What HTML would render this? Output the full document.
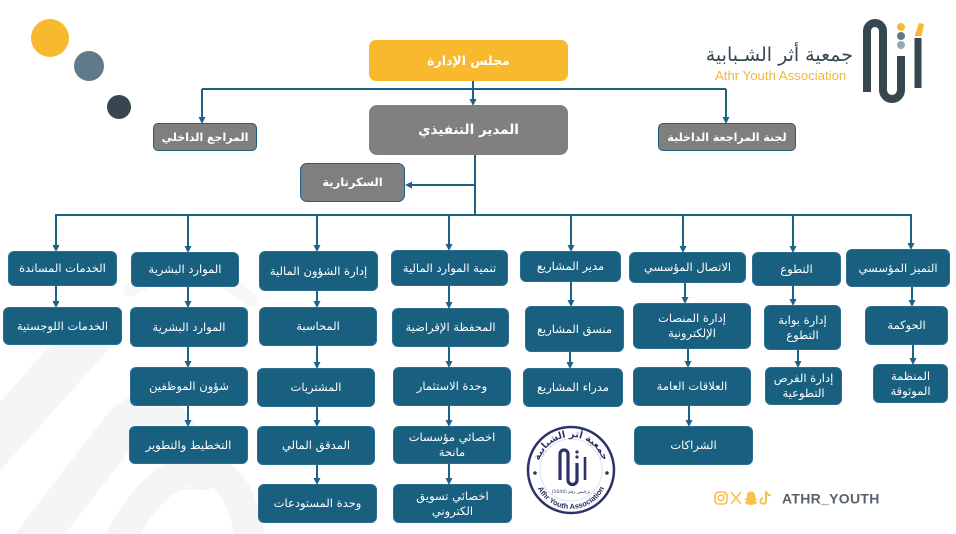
<!DOCTYPE html>
<html><head><meta charset="utf-8">
<style>
html,body{margin:0;padding:0;background:#fff;}
body{width:956px;height:534px;position:relative;overflow:hidden;font-family:"DejaVu Sans","Liberation Sans",sans-serif;}
.b{position:absolute;box-sizing:border-box;background:#185f80;border-radius:6px;color:#fff;display:flex;align-items:center;justify-content:center;text-align:center;font-size:11.5px;line-height:15px;direction:rtl;border:1px solid #2a6f90;}
.g{background:#7f7f7f;border:1.5px solid #1f5f80;border-radius:5px;font-weight:bold;font-size:11px;}
svg{position:absolute;left:0;top:0;}
.logo{position:absolute;right:103px;top:44px;font-size:19px;color:#37474f;direction:rtl;white-space:nowrap;font-family:"DejaVu Sans",sans-serif;}
</style></head><body>

<svg width="956" height="534" viewBox="0 0 956 534">
  <!-- faint background swooshes -->
  <g fill="none" stroke="#f4f5f6" stroke-linecap="round">
    <path d="M-30,470 L95,330" stroke-width="46"/>
    <path d="M20,560 L120,430 Q150,395 175,430 L200,470" stroke-width="40"/>
    <path d="M110,560 Q150,470 200,470 Q240,470 250,540" stroke-width="30"/>
    <path d="M130,290 Q200,250 250,300" stroke-width="14" stroke="#f6f7f8"/>
  </g>
  <g fill="none" stroke="#f8f1de" stroke-width="1">
    <path d="M0,420 L60,350"/>
    <path d="M115,534 Q160,480 210,490"/>
  </g>

  <!-- circles -->
  <circle cx="50" cy="38" r="19" fill="#F6B92F"/>
  <circle cx="89" cy="66" r="15" fill="#5f7b8a"/>
  <circle cx="119" cy="107" r="12" fill="#37474f"/>

  <!-- logo mark -->
  <g fill="none" stroke="#37474f" stroke-width="8">
    <path d="M867,92 V31 A8,8 0 0 1 883,31 V90 A9,9 0 0 0 901,90 V56"/>
    <path d="M918,88 V38" stroke-width="7"/>
  </g>
  <polygon points="914.5,36 919,23 924,24 921.5,36" fill="#F6B92F"/>
  <circle cx="901" cy="27" r="4" fill="#F6B92F"/>
  <circle cx="901" cy="36" r="4" fill="#5f7b8a"/>
  <circle cx="901" cy="45" r="4" fill="#9aa7af"/>
  <text x="715" y="80" font-family="Liberation Sans, sans-serif" font-size="13.2" fill="#F3B73B">Athr Youth Association</text>

  <!-- connectors -->
  <g stroke="#1e6386" stroke-width="2" fill="none">
    <path d="M473,81 V100"/>
    <path d="M202,89 H726 M202,89 V118 M726,89 V118"/>
    <path d="M475,155 V215 M475,185 H410"/>
    <path d="M55,215 H912"/>
    <path d="M56,215 V246 M188,215 V247 M317,215 V246 M449,215 V245 M571,215 V246 M683,215 V247 M793,215 V247 M911,215 V244"/>
    <path d="M56,286 V302"/>
    <path d="M188,287 V302 M188,347 V362 M188,406 V421"/>
    <path d="M317,291 V302 M317,346 V363 M317,407 V421 M317,465 V479"/>
    <path d="M449,286 V303 M449,347 V362 M449,406 V421 M449,464 V479"/>
    <path d="M571,282 V301 M570,352 V363"/>
    <path d="M685,283 V298 M688,349 V362 M689,406 V421"/>
    <path d="M793,286 V300 M798,350 V362"/>
    <path d="M912,287 V301 M913,345 V359"/>
  </g>
  <g fill="#1e6386">
    <polygon points="469.5,99 476.5,99 473,106"/>
    <polygon points="198.5,117 205.5,117 202,124"/>
    <polygon points="722.5,117 729.5,117 726,124"/>
    <polygon points="412,181.5 412,188.5 405,185"/>
    <polygon points="52.5,245 59.5,245 56,252"/>
    <polygon points="184.5,246 191.5,246 188,253"/>
    <polygon points="313.5,245 320.5,245 317,252"/>
    <polygon points="445.5,244 452.5,244 449,251"/>
    <polygon points="567.5,245 574.5,245 571,252"/>
    <polygon points="679.5,246 686.5,246 683,253"/>
    <polygon points="789.5,246 796.5,246 793,253"/>
    <polygon points="907.5,243 914.5,243 911,250"/>
    <polygon points="52.5,301 59.5,301 56,308"/>
    <polygon points="184.5,301 191.5,301 188,308"/>
    <polygon points="184.5,361 191.5,361 188,368"/>
    <polygon points="184.5,420 191.5,420 188,427"/>
    <polygon points="313.5,301 320.5,301 317,308"/>
    <polygon points="313.5,362 320.5,362 317,369"/>
    <polygon points="313.5,420 320.5,420 317,427"/>
    <polygon points="313.5,478 320.5,478 317,485"/>
    <polygon points="445.5,302 452.5,302 449,309"/>
    <polygon points="445.5,361 452.5,361 449,368"/>
    <polygon points="445.5,420 452.5,420 449,427"/>
    <polygon points="445.5,478 452.5,478 449,485"/>
    <polygon points="567.5,300 574.5,300 571,307"/>
    <polygon points="566.5,362 573.5,362 570,369"/>
    <polygon points="681.5,297 688.5,297 685,304"/>
    <polygon points="684.5,361 691.5,361 688,368"/>
    <polygon points="685.5,420 692.5,420 689,427"/>
    <polygon points="789.5,299 796.5,299 793,306"/>
    <polygon points="794.5,361 801.5,361 798,368"/>
    <polygon points="908.5,300 915.5,300 912,307"/>
    <polygon points="909.5,358 916.5,358 913,365"/>
  </g>

  <!-- seal -->
  <circle cx="571" cy="470" r="43" fill="#fff" stroke="#2b3266" stroke-width="2.5"/>
  <circle cx="571" cy="470" r="31" fill="none" stroke="#d8dae6" stroke-width="0.8"/>
  <circle cx="535" cy="473" r="1.8" fill="#2b3266"/>
  <circle cx="607" cy="473" r="1.8" fill="#2b3266"/>
  <defs>
    <path id="arcTop" d="M538,470 A33,33 0 0 1 604,470"/>
    <path id="arcBot" d="M534,472 A37,37 0 0 0 608,472"/>
  </defs>
  <text font-family="DejaVu Sans, sans-serif" font-size="9.5" font-weight="bold" fill="#2b3266" direction="rtl"><textPath href="#arcTop" startOffset="50%" text-anchor="middle">جمعية أثر الشبابية</textPath></text>
  <text font-family="Liberation Sans, sans-serif" font-size="7.5" font-weight="bold" fill="#2b3266"><textPath href="#arcBot" startOffset="50%" text-anchor="middle">Athr Youth Association</textPath></text>
  <g fill="none" stroke="#2b3266" stroke-width="3.2">
    <path d="M560,480 V454 A4,4 0 0 1 568,454 V480 A4.5,4.5 0 0 0 577,480 V463"/>
    <path d="M585,480 V457" stroke-width="2.6"/>
  </g>
  <circle cx="577" cy="452" r="1.6" fill="#2b3266"/>
  <circle cx="577" cy="457" r="1.6" fill="#2b3266"/>
  <text x="571" y="493" text-anchor="middle" font-family="DejaVu Sans, sans-serif" font-size="4.5" fill="#2b3266">ترخيص رقم (1044)</text>

  <!-- social -->
  <g fill="none" stroke="#F7C24C" stroke-width="1.6">
    <rect x="715" y="492" width="12" height="12" rx="3.5"/>
    <circle cx="721" cy="498" r="2.8"/>
    <path d="M731,492 L741,504 M741,492 L731,504"/>
  </g>
  <circle cx="724.6" cy="494.6" r="0.9" fill="#F7C24C"/>
  <path d="M751,491.5 C747,491.5 746.5,495 746.8,498 L744.5,499 L746.5,500.5 C745.8,502 744.5,502.5 744.5,503 C747,503.5 748,505 751,505 C754,505 755,503.5 757.5,503 C757.5,502.5 756.2,502 755.5,500.5 L757.5,499 L755.2,498 C755.5,495 755,491.5 751,491.5 Z" fill="#F7C24C"/>
  <path d="M766,491 V501 A2.8,2.8 0 1 1 763.2,498.2 M766,491 C766.5,494 768.5,495.5 771,495.5" fill="none" stroke="#F7C24C" stroke-width="2"/>
  <text x="782" y="503.5" font-family="Liberation Sans, sans-serif" font-size="14" font-weight="bold" letter-spacing="0.3" fill="#58626b">ATHR_YOUTH</text>
</svg>

<div class="logo">جمعية أثر الشـبابية</div>

<!-- top boxes -->
<div class="b" style="left:369px;top:40px;width:199px;height:41px;background:#F8B92F;border:none;border-radius:7px;font-weight:bold;font-size:12.5px;">مجلس الإدارة</div>
<div class="b" style="left:369px;top:105px;width:199px;height:50px;background:#808080;border:none;border-radius:8px;font-weight:bold;font-size:13.5px;">المدير التنفيذي</div>
<div class="b g" style="left:153px;top:123px;width:104px;height:28px;">المراجع الداخلي</div>
<div class="b g" style="left:658px;top:123px;width:138px;height:28px;">لجنة المراجعة الداخلية</div>
<div class="b g" style="left:300px;top:163px;width:105px;height:39px;border-radius:7px;font-size:11.5px;">السكرتارية</div>

<!-- col1 -->
<div class="b" style="left:8px;top:251px;width:109px;height:35px;">الخدمات المساندة</div>
<div class="b" style="left:3px;top:307px;width:119px;height:38px;">الخدمات اللوجستية</div>
<!-- col2 -->
<div class="b" style="left:131px;top:252px;width:108px;height:35px;">الموارد البشرية</div>
<div class="b" style="left:130px;top:307px;width:118px;height:40px;">الموارد البشرية</div>
<div class="b" style="left:130px;top:367px;width:118px;height:39px;">شؤون الموظفين</div>
<div class="b" style="left:129px;top:426px;width:119px;height:38px;">التخطيط والتطوير</div>
<!-- col3 -->
<div class="b" style="left:259px;top:251px;width:119px;height:40px;">إدارة الشؤون المالية</div>
<div class="b" style="left:259px;top:307px;width:118px;height:39px;">المحاسبة</div>
<div class="b" style="left:257px;top:368px;width:118px;height:39px;">المشتريات</div>
<div class="b" style="left:257px;top:426px;width:118px;height:39px;">المدقق المالي</div>
<div class="b" style="left:258px;top:484px;width:119px;height:39px;">وحدة المستودعات</div>
<!-- col4 -->
<div class="b" style="left:391px;top:250px;width:117px;height:36px;">تنمية الموارد المالية</div>
<div class="b" style="left:392px;top:308px;width:117px;height:39px;">المحفظة الإقراضية</div>
<div class="b" style="left:393px;top:367px;width:118px;height:39px;">وحدة الاستثمار</div>
<div class="b" style="left:393px;top:426px;width:118px;height:38px;">اخصائي مؤسسات<br>مانحة</div>
<div class="b" style="left:393px;top:484px;width:119px;height:39px;">اخصائي تسويق<br>الكتروني</div>
<!-- col5 -->
<div class="b" style="left:520px;top:251px;width:101px;height:31px;">مدير المشاريع</div>
<div class="b" style="left:525px;top:306px;width:99px;height:46px;">منسق المشاريع</div>
<div class="b" style="left:523px;top:368px;width:100px;height:39px;">مدراء المشاريع</div>
<!-- col6 -->
<div class="b" style="left:629px;top:252px;width:117px;height:31px;">الاتصال المؤسسي</div>
<div class="b" style="left:633px;top:303px;width:118px;height:46px;">إدارة المنصات<br>الإلكترونية</div>
<div class="b" style="left:633px;top:367px;width:118px;height:39px;">العلاقات العامة</div>
<div class="b" style="left:634px;top:426px;width:119px;height:39px;">الشراكات</div>
<!-- col7 -->
<div class="b" style="left:752px;top:252px;width:89px;height:34px;">التطوع</div>
<div class="b" style="left:764px;top:305px;width:77px;height:45px;">إدارة بوابة<br>التطوع</div>
<div class="b" style="left:765px;top:367px;width:77px;height:38px;">إدارة الفرص<br>التطوعية</div>
<!-- col8 -->
<div class="b" style="left:846px;top:249px;width:104px;height:38px;">التميز المؤسسي</div>
<div class="b" style="left:865px;top:306px;width:83px;height:39px;">الحوكمة</div>
<div class="b" style="left:873px;top:364px;width:75px;height:39px;">المنظمة<br>الموثوقة</div>

</body></html>
